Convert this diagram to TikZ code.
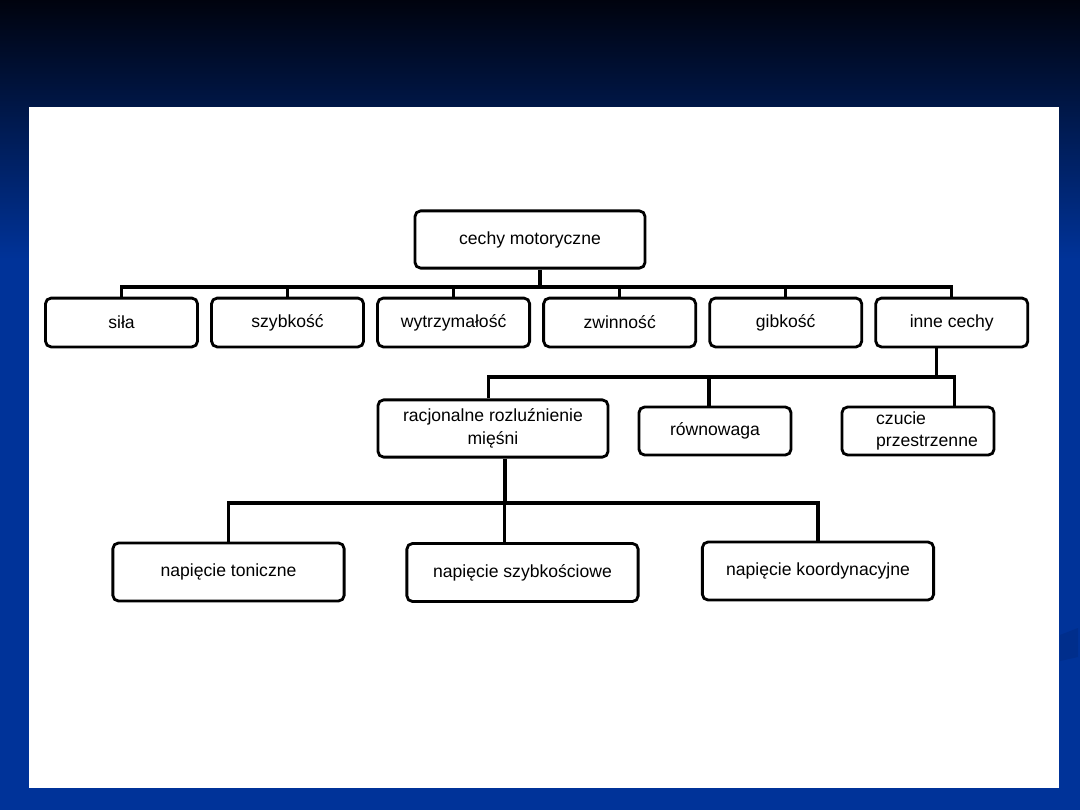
\documentclass[tikz,border=0pt]{standalone}
\usepackage{fontspec}
\setmainfont{Liberation Sans}
\usepackage{xcolor}
\usepackage{tikz}
\usetikzlibrary{positioning}

\definecolor{bgtop}{RGB}{0,3,14}
\definecolor{bgblue}{RGB}{0,51,153}
\definecolor{bgdark}{RGB}{0,46,140}

\begin{document}
\begin{tikzpicture}[
    x=0.025cm, y=-0.025cm,
    node distance=0.28cm,
    box/.style={rectangle, draw=black, fill=white, line width=2pt,
                rounded corners=4pt, inner sep=0pt, align=center,
                font=\fontsize{12.5}{16}\selectfont},
    wide/.style={box, minimum width=5.75cm, minimum height=1.43cm},
    small/.style={box, minimum width=3.8cm, minimum height=1.22cm},
    conn/.style={line width=2.2pt, line join=miter},
]
\useasboundingbox (0,0) rectangle (1080,810);
% background of the slide
\fill[bgblue] (0,0) rectangle (1080,810);
\shade[top color=bgtop, bottom color=bgblue] (0,0) rectangle (1080,260);
\fill[bgdark] (1060,635) -- (1078,628) -- (1078,657) -- (1060,661) -- cycle;
\fill[white] (29,107) rectangle (1059,788);

% top
\node[wide] (cechy) at (530,239.5) {cechy motoryczne};

% second row
\node[small] (sila) at (121.5,322.5) {siła};
\node[small, right=of sila] (szyb) {szybkość};
\node[small, right=of szyb] (wytrz) {wytrzymałość};
\node[small, right=of wytrz] (zwin) {zwinność};
\node[small, right=of zwin] (gibk) {gibkość};
\node[small, right=of gibk] (inne) {inne cechy};

% third row
\node[wide] (rac) at (493,428.5) {racjonalne rozluźnienie\\mięśni};
\node[small, minimum height=1.2cm] (rown) at (715,431) {równowaga};
\node[small, minimum height=1.2cm, align=left] (czuc) at (918,431)
    {\hspace*{0.45cm}czucie\hspace*{1.1cm}\\\hspace*{0.45cm}przestrzenne};

% fourth row
\node[wide, minimum width=5.78cm, minimum height=1.45cm] (ton) at (228.5,572) {napięcie toniczne};
\node[wide, minimum width=5.78cm, minimum height=1.45cm] (szybk) at (522.5,572.5) {napięcie szybkościowe};
\node[wide, minimum width=5.78cm, minimum height=1.45cm] (koord) at (818,571) {napięcie koordynacyjne};

% bus levels
\coordinate (bus1) at (0,287);
\coordinate (bus2) at (0,377);
\coordinate (bus3) at (0,503);

% cechy -> second row
\draw[conn] ([xshift=0.25cm]cechy.south) -- ([xshift=0.25cm]cechy.south |- bus1);
\draw[conn] (sila.north) -- (sila.north |- bus1) -- (inne.north |- bus1) -- (inne.north);
\foreach \n in {szyb,wytrz,zwin,gibk}
    \draw[conn] (\n.north) -- (\n.north |- bus1);

% inne cechy -> third row
\draw[conn] ([xshift=-0.39cm]inne.south) -- ([xshift=-0.39cm]inne.south |- bus2);
\draw[conn] ([xshift=-0.12cm]rac.north) -- ([xshift=-0.12cm]rac.north |- bus2)
    -- ([xshift=0.92cm]czuc.north |- bus2) -- ([xshift=0.92cm]czuc.north);
\draw[conn] ([xshift=-0.15cm]rown.north) -- ([xshift=-0.15cm]rown.north |- bus2);

% racjonalne -> fourth row
\draw[conn] ([xshift=0.3cm]rac.south) -- ([xshift=0.3cm]rac.south |- bus3);
\draw[conn] (ton.north) -- (ton.north |- bus3) -- (koord.north |- bus3) -- (koord.north);
\draw[conn] ([xshift=-0.46cm]szybk.north) -- ([xshift=-0.46cm]szybk.north |- bus3);
\end{tikzpicture}
\end{document}
